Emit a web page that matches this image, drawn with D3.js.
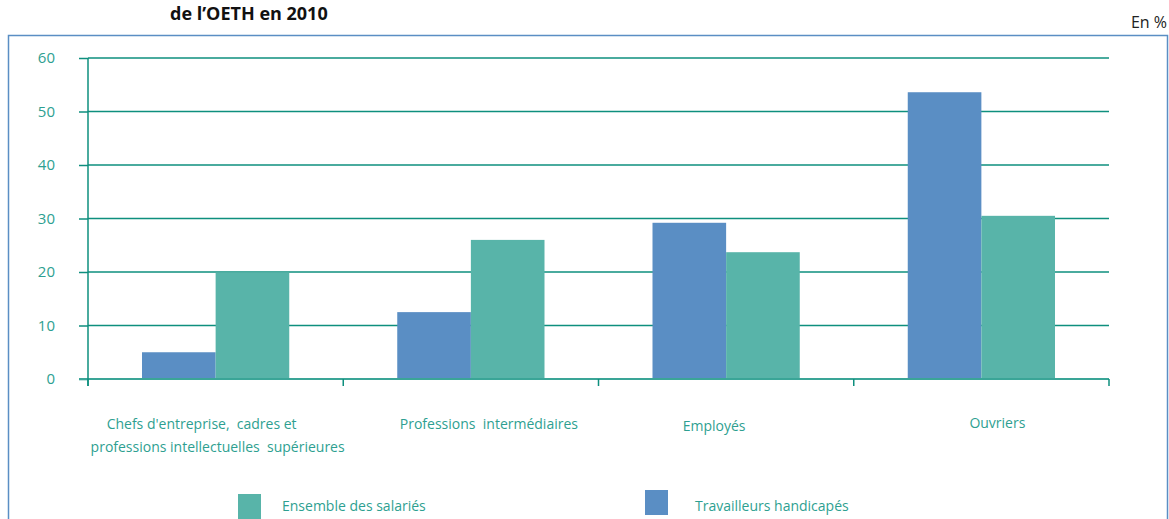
<!DOCTYPE html>
<html>
<head>
<meta charset="utf-8">
<script src="https://cdn.jsdelivr.net/npm/d3@7"></script>
<style>
  body { margin: 0; background: #fff; }
  svg { display: block; font-family: "Open Sans", "Noto Sans", sans-serif; }
</style>
</head>
<body>
<div id="chart"></div>
<script>
// data
let categories = [
  ["Chefs d'entreprise,  cadres et", "professions intellectuelles  supérieures"],
  ["Professions  intermédiaires"],
  ["Employés"],
  ["Ouvriers"]
];
let seriesNames = ["Travailleurs handicapés", "Ensemble des salariés"];
let handicapes = [5.0, 12.5, 29.2, 53.6];
let salaries = [19.9, 26.0, 23.7, 30.5];
let yTicks = [0, 10, 20, 30, 40, 50, 60];

let width = 1169;
let height = 519;
let blue = "#5a8ec4";
let green = "#58b4a9";
let teal = "#0e8f7e";
let textTeal = "#2e9f91";

let svg = d3.select("#chart").append("svg")
  .attr("width", width)
  .attr("height", height);

// title (sits right at the top edge in the original)
svg.append("text")
  .attr("x", 170)
  .attr("y", 20)
  .attr("font-size", 18)
  .attr("font-weight", "bold")
  .attr("fill", "#111")
  .text("de l\u2019OETH en 2010");

svg.append("text")
  .attr("x", 1167)
  .attr("y", 28)
  .attr("text-anchor", "end")
  .attr("font-size", 16)
  .attr("fill", "#222")
  .text("En %");

// frame
svg.append("rect")
  .attr("x", 8.5)
  .attr("y", 35.5)
  .attr("width", 1159)
  .attr("height", 500)
  .attr("fill", "none")
  .attr("stroke", blue)
  .attr("stroke-width", 1.5);

let plotLeft = 88, plotRight = 1109, plotTop = 58, plotBottom = 379;

let x = d3.scaleBand()
  .domain(d3.range(categories.length))
  .range([plotLeft, plotRight])
  .paddingInner(0)
  .paddingOuter(0);

let xs = d3.scaleBand()
  .domain([0, 1])
  .range([54, x.bandwidth() - 54]);

let y = d3.scaleLinear().domain([0, 60]).range([plotBottom, plotTop]);

// gridlines + y labels
let yAxis = svg.append("g")
  .attr("transform", "translate(" + plotLeft + ",0)")
  .call(d3.axisLeft(y).tickValues(yTicks).tickSize(9).tickPadding(24)
    .tickFormat(d3.format("d")));
yAxis.select(".domain").remove();
yAxis.selectAll(".tick line").attr("stroke", teal).attr("stroke-width", 1.5);
yAxis.selectAll(".tick text")
  .attr("fill", textTeal)
  .attr("font-size", 15)
  .attr("font-family", "\"Open Sans\", sans-serif");

svg.append("g")
  .selectAll("line")
  .data(yTicks.filter(d => d > 0))
  .enter()
  .append("line")
  .attr("x1", plotLeft)
  .attr("x2", plotRight)
  .attr("y1", d => y(d))
  .attr("y2", d => y(d))
  .attr("stroke", teal)
  .attr("stroke-width", 1.5);

// bars
let groups = svg.selectAll(".grp")
  .data(categories.map((c, i) => i))
  .enter()
  .append("g")
  .attr("transform", d => "translate(" + x(d) + ",0)");

groups.append("rect")
  .attr("x", xs(0))
  .attr("width", xs.bandwidth())
  .attr("y", d => y(handicapes[d]))
  .attr("height", d => y(0) - y(handicapes[d]))
  .attr("fill", blue);

groups.append("rect")
  .attr("x", xs(1))
  .attr("width", xs.bandwidth())
  .attr("y", d => y(salaries[d]))
  .attr("height", d => y(0) - y(salaries[d]))
  .attr("fill", green);

// x axis line and boundary ticks
svg.append("line")
  .attr("x1", plotLeft - 9)
  .attr("x2", plotRight)
  .attr("y1", plotBottom)
  .attr("y2", plotBottom)
  .attr("stroke", "#3aa597")
  .attr("stroke-width", 2);

svg.append("line")
  .attr("x1", plotLeft)
  .attr("x2", plotLeft)
  .attr("y1", plotTop)
  .attr("y2", plotBottom + 7)
  .attr("stroke", teal)
  .attr("stroke-width", 1.5);

svg.append("g")
  .selectAll("line")
  .data(d3.range(categories.length + 1))
  .enter()
  .append("line")
  .attr("x1", d => plotLeft + d * x.bandwidth())
  .attr("x2", d => plotLeft + d * x.bandwidth())
  .attr("y1", plotBottom)
  .attr("y2", plotBottom + 7)
  .attr("stroke", teal)
  .attr("stroke-width", 1.5);

// category labels
let labelShift = [2, 18, -12, 16];
let labelY = [429, 429, 431, 428];
categories.forEach((lines, i) => {
  let t = svg.append("text")
    .attr("text-anchor", "middle")
    .attr("font-size", 14)
    .attr("fill", textTeal)
    .attr("y", labelY[i]);
  lines.forEach((line, j) => {
    t.append("tspan")
      .attr("x", x(i) + x.bandwidth() / 2 + labelShift[i] + (j === 0 && lines.length > 1 ? -16 : 0))
      .attr("dy", j === 0 ? 0 : 23)
      .style("white-space", "pre")
      .text(line);
  });
});

// legend
let legend = [
  { name: seriesNames[1], color: green, x: 238, y: 494, dx: 44 },
  { name: seriesNames[0], color: blue, x: 645, y: 490, dx: 50 }
];
legend.forEach(l => {
  svg.append("rect")
    .attr("x", l.x)
    .attr("y", l.y)
    .attr("width", 23)
    .attr("height", 25)
    .attr("fill", l.color);
  svg.append("text")
    .attr("x", l.x + l.dx)
    .attr("y", 511)
    .attr("font-size", 14)
    .attr("fill", textTeal)
    .text(l.name);
});
</script>
</body>
</html>
